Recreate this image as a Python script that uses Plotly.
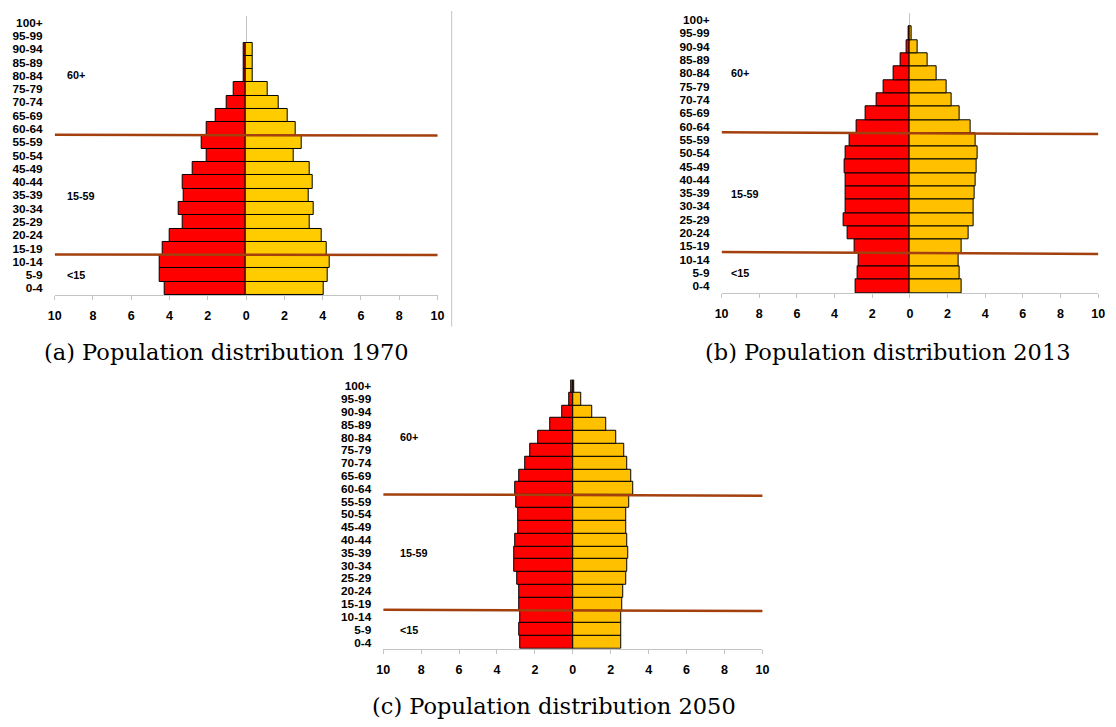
import plotly.graph_objects as go

# Age groups, youngest first (bottom of each pyramid)
age_groups = ["0-4", "5-9", "10-14", "15-19", "20-24", "25-29", "30-34", "35-39",
              "40-44", "45-49", "50-54", "55-59", "60-64", "65-69", "70-74",
              "75-79", "80-84", "85-89", "90-94", "95-99", "100+"]

# Share of total population (%) per age group
male_1970 = [4.23, 4.50, 4.54, 4.35, 4.00, 3.30, 3.52, 3.25, 3.30, 2.80, 2.06,
             2.34, 2.06, 1.58, 1.03, 0.64, 0.15, 0.15, 0.15, 0.0, 0.0]
female_1970 = [4.05, 4.28, 4.36, 4.23, 3.97, 3.32, 3.54, 3.26, 3.49, 3.32, 2.47,
               2.92, 2.61, 2.18, 1.68, 1.15, 0.36, 0.36, 0.36, 0.0, 0.0]

male_2013 = [2.90, 2.80, 2.74, 2.92, 3.29, 3.53, 3.44, 3.44, 3.44, 3.48, 3.44,
             3.20, 2.85, 2.33, 1.75, 1.42, 0.89, 0.49, 0.19, 0.07, 0.0]
female_2013 = [2.73, 2.66, 2.60, 2.76, 3.13, 3.39, 3.39, 3.44, 3.50, 3.57, 3.62,
               3.50, 3.22, 2.66, 2.22, 1.96, 1.43, 0.94, 0.42, 0.10, 0.0]

male_2050 = [2.76, 2.81, 2.76, 2.81, 2.85, 2.93, 3.07, 3.07, 3.02, 2.88, 2.88,
             2.99, 3.06, 2.85, 2.53, 2.24, 1.81, 1.18, 0.57, 0.19, 0.10]
female_2050 = [2.57, 2.57, 2.57, 2.60, 2.66, 2.80, 2.86, 2.92, 2.86, 2.80, 2.80,
               2.95, 3.18, 3.09, 2.88, 2.69, 2.31, 1.77, 1.02, 0.42, 0.09]

x_ticks = [-10, -8, -6, -4, -2, 0, 2, 4, 6, 8, 10]
x_tick_text = [str(abs(v)) for v in x_ticks]

# Broad age bands: label, row index where the label sits
band_labels = ["60+", "15-59", "<15"]
band_rows = [16.05, 6.95, 1.0]
# Band boundaries (between rows 10-14|15-19 and 55-59|60-64)
band_edges = [2.5, 11.5]

captions = ["(a) Population distribution 1970",
            "(b) Population distribution 2013",
            "(c) Population distribution 2050"]

W, H = 1116, 727
RED = "#FF0000"
LINE = "#A3400E"
GRID = "#C4C4C4"
SANS = "Liberation Sans"

# Panel placement in pixels: (left, right, top, bottom)
panels = [
    dict(px=(48.3, 436.0, 16.0, 295.3), male=male_1970, female=female_1970,
         yellow="#FFCC00", cap=(222.5, 352), label_x=-9.45, tilt=(0.05, 0.0)),
    dict(px=(723.7, 1105.0, 13.3, 293.3), male=male_2013, female=female_2013,
         yellow="#FFC000", cap=(892.5, 352), label_x=-9.6, tilt=(0.07, -0.07)),
    dict(px=(381.0, 765.0, 380.3, 649.7), male=male_2050, female=female_2050,
         yellow="#FFC000", cap=(554.0, 707), label_x=-9.2, tilt=(0.05, -0.05)),
]


def outline(values):
    # no outline on empty rows, so a zero-width bar leaves no stroke
    return [1 if v > 0 else 0 for v in values]


fig = go.Figure()
rows = list(range(len(age_groups)))
shapes = []
annotations = []

for i, p in enumerate(panels):
    n = "" if i == 0 else str(i + 1)
    xa, ya = "x" + n, "y" + n
    left, right, top, bottom = p["px"]

    fig.add_trace(go.Bar(
        y=rows, x=[-v for v in p["male"]], orientation="h",
        marker=dict(color=RED, line=dict(color="#000000", width=outline(p["male"]))),
        xaxis=xa, yaxis=ya, showlegend=False, name="Male"))
    fig.add_trace(go.Bar(
        y=rows, x=p["female"], orientation="h",
        marker=dict(color=p["yellow"],
                    line=dict(color="#000000", width=outline(p["female"]))),
        xaxis=xa, yaxis=ya, showlegend=False, name="Female"))

    fig.layout["xaxis" + n] = dict(
        domain=[left / W, right / W], range=[-10, 10], anchor=ya,
        tickvals=x_ticks, ticktext=x_tick_text,
        tickfont=dict(family=SANS, size=12.5, color="#000000", weight="bold"),
        ticks="outside", ticklen=4, tickcolor=GRID, showline=True, linecolor=GRID,
        linewidth=1, showgrid=False, zeroline=True, zerolinecolor=GRID,
        zerolinewidth=1, ticklabelstandoff=5, fixedrange=True)
    fig.layout["yaxis" + n] = dict(
        domain=[1 - bottom / H, 1 - top / H], range=[-0.5, 20.5], anchor=xa,
        tickvals=rows, ticktext=age_groups,
        tickfont=dict(family=SANS, size=11.8, color="#000000", weight="bold"),
        ticks="", showline=False, showgrid=False, zeroline=False,
        ticklabelstandoff=11, fixedrange=True)

    # horizontal lines separating the broad age bands
    t0, t1 = p["tilt"]
    for e in band_edges:
        shapes.append(dict(type="line", xref=xa, yref=ya, x0=-10, x1=10.05,
                           y0=e + t0, y1=e + t1,
                           line=dict(color=LINE, width=2.5)))
    for lab, r in zip(band_labels, band_rows):
        annotations.append(dict(xref=xa, yref=ya, x=p["label_x"], y=r, text=lab,
                                showarrow=False, xanchor="left", yanchor="middle",
                                font=dict(family=SANS, size=10.8,
                                          color="#000000", weight="bold")))
    cx, cy = p["cap"]
    annotations.append(dict(xref="paper", yref="paper", x=cx / W, y=1 - cy / H,
                            text=captions[i], showarrow=False, xanchor="center",
                            yanchor="middle",
                            font=dict(family="DejaVu Serif", size=22.5,
                                      color="#000000")))

# thin divider between the two upper pyramids
shapes.append(dict(type="line", xref="paper", yref="paper", x0=450.3 / W, x1=450.3 / W,
                   y0=1 - 327 / H, y1=1 - 11 / H, line=dict(color=GRID, width=1)))

fig.update_layout(
    width=W, height=H, margin=dict(l=0, r=0, t=0, b=0),
    paper_bgcolor="#FFFFFF", plot_bgcolor="#FFFFFF",
    barmode="relative", bargap=0,
    shapes=shapes, annotations=annotations,
)

fig.write_html("out.html", config={"displayModeBar": False})
